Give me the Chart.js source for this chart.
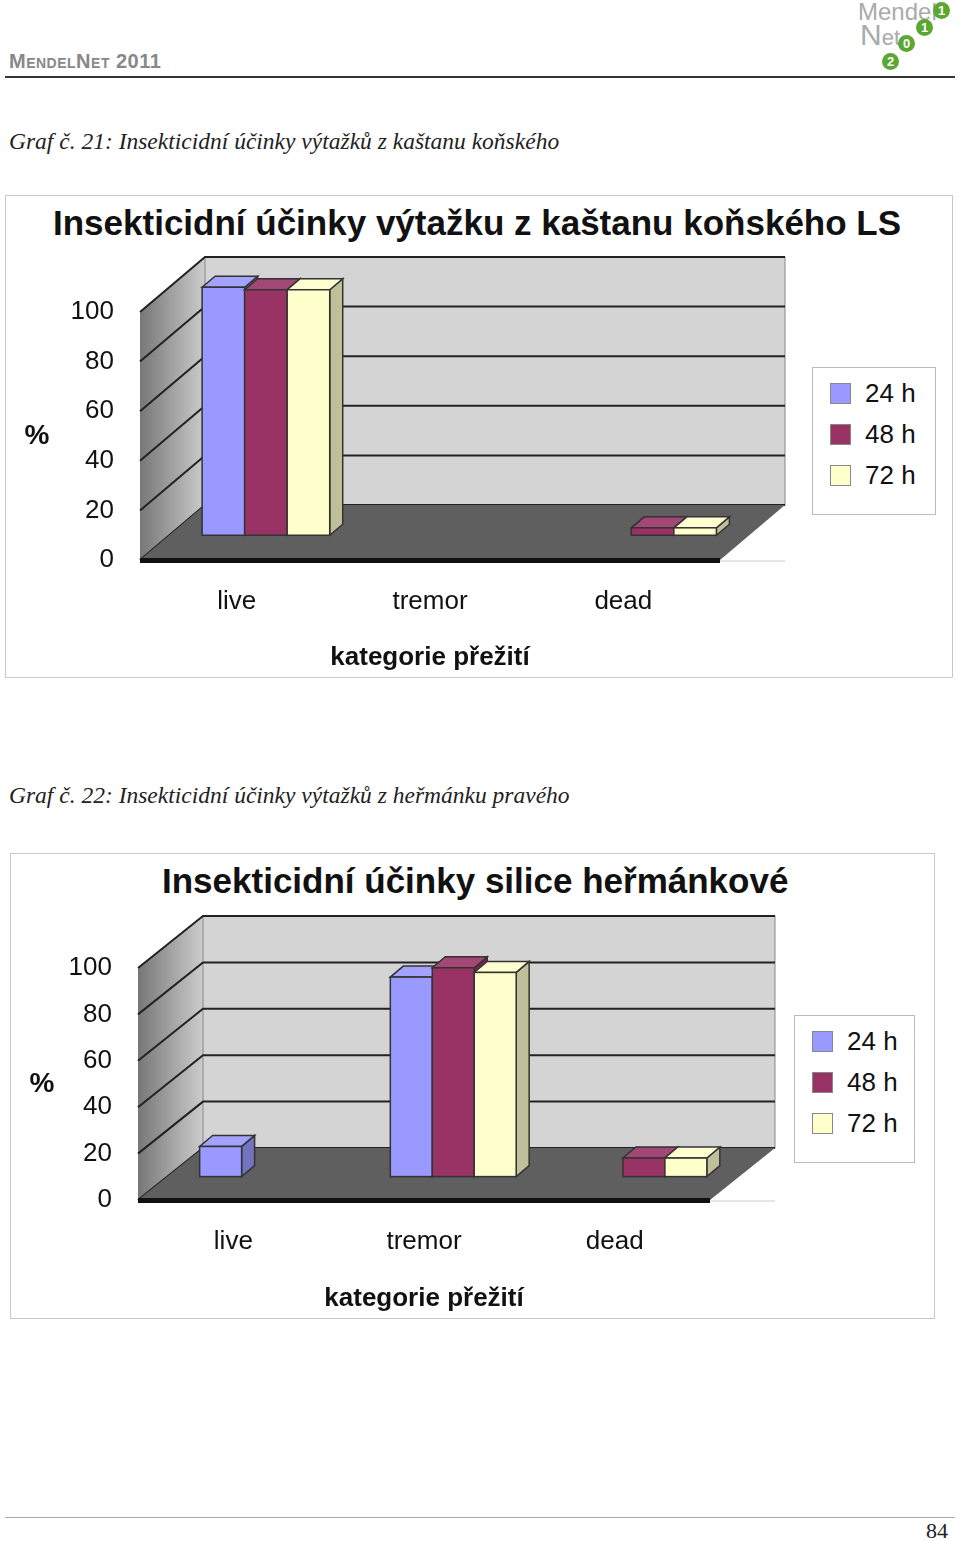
<!DOCTYPE html>
<html><head><meta charset="utf-8">
<script src="https://cdn.jsdelivr.net/npm/chart.js@4"></script>
<style>
body{margin:0;width:960px;height:1541px;background:#fff;position:relative;font-family:"Liberation Sans",Arial,sans-serif;overflow:hidden}
.abs{position:absolute}
.cap{font-family:"Liberation Serif","Times New Roman",serif;font-style:italic;font-size:23.5px;color:#222}
.box{border:1px solid #c8c8c8}
.ttl{font-weight:bold;font-size:35px;color:#111;white-space:nowrap}
.leg{border:1px solid #bbb;background:#fff;font-size:26px;color:#111}
.leg div{display:flex;align-items:center;height:41px;padding-left:17px}
.leg span{display:inline-block;width:19px;height:19px;border:1px solid #888;margin-right:14px}
.dot{position:absolute;border-radius:50%;background:#5aa832;color:#fff;font-size:13px;font-weight:bold;text-align:center;line-height:17px;width:17px;height:17px}
</style></head><body>
<div class="abs" style="left:9px;top:50px;font-size:20px;font-weight:bold;color:#888;font-variant:small-caps;letter-spacing:0.5px">MendelNet 2011</div>
<div class="abs" style="left:858px;top:-2px;font-size:24px;color:#aaa">Mendel</div>
<div class="abs" style="left:860px;top:18px;font-size:30px;color:#aaa">N<span style="font-size:22px">et</span></div>
<div class="dot" style="left:933px;top:2px">1</div>
<div class="dot" style="left:916px;top:19px">1</div>
<div class="dot" style="left:898px;top:35px">0</div>
<div class="dot" style="left:882px;top:53px">2</div>
<div class="abs" style="left:5px;top:76px;width:950px;height:2px;background:#333"></div>

<div class="abs cap" style="left:9px;top:128px">Graf č. 21: Insekticidní účinky výtažků z kaštanu koňského</div>
<div class="abs box" style="left:5px;top:195px;width:946px;height:481px"></div>
<div class="abs ttl" style="left:53px;top:203px">Insekticidní účinky výtažku z kaštanu koňského LS</div>
<div class="abs" style="left:5px;top:195px;width:800px;height:482px"><canvas id="c1"></canvas></div>
<div class="abs leg" style="left:812px;top:367px;width:122px;height:141px;padding-top:5px">
<div><span style="background:#9999ff"></span>24 h</div><div><span style="background:#993366"></span>48 h</div><div><span style="background:#ffffcc"></span>72 h</div></div>

<div class="abs cap" style="left:9px;top:782px">Graf č. 22: Insekticidní účinky výtažků z heřmánku pravého</div>
<div class="abs box" style="left:10px;top:853px;width:923px;height:464px"></div>
<div class="abs ttl" style="left:162px;top:861px">Insekticidní účinky silice heřmánkové</div>
<div class="abs" style="left:10px;top:853px;width:800px;height:465px"><canvas id="c2"></canvas></div>
<div class="abs leg" style="left:794px;top:1015px;width:119px;height:141px;padding-top:5px">
<div><span style="background:#9999ff"></span>24 h</div><div><span style="background:#993366"></span>48 h</div><div><span style="background:#ffffcc"></span>72 h</div></div>

<div class="abs" style="left:5px;top:1517px;width:950px;height:1px;background:#aaa"></div>
<div class="abs" style="left:926px;top:1518px;font-family:'Liberation Serif',serif;font-size:22px;color:#222">84</div>

<script>
const categories = ['live', 'tremor', 'dead'];
const seriesNames = ['24 h', '48 h', '72 h'];
const colors = ['#9999ff', '#993366', '#ffffcc'];
const yTicks = [0, 20, 40, 60, 80, 100];
// chart 21 - kaštan koňský
const horse24 = [100, 0, 0];
const horse48 = [99, 0, 3];
const horse72 = [99, 0, 3];
// chart 22 - heřmánek
const chamo24 = [13, 86, 0];
const chamo48 = [0, 90, 8];
const chamo72 = [0, 88, 8];

function shade(hex, f) {
    const n = parseInt(hex.slice(1), 16);
    const c = [n >> 16, (n >> 8) & 255, n & 255].map(v => Math.round(f > 1 ? v + (255 - v) * (f - 1) : v * f));
    return `rgb(${c.join(',')})`;
}

const threeD = {
    id: 'threeD',
    beforeDatasetsDraw(chart, args, o) {
        const ctx = chart.ctx, a = chart.chartArea, y = chart.scales.y;
        const dx = o.dx, dy = o.dy;
        ctx.save();
        // "%" axis title, not rotated
        ctx.fillStyle = '#111';
        ctx.font = 'bold 28px "Liberation Sans", Arial, sans-serif';
        ctx.textAlign = 'center'; ctx.textBaseline = 'middle';
        ctx.fillText('%', o.pctX, (a.top + a.bottom) / 2);
        // left wall
        let g = ctx.createLinearGradient(a.left, 0, a.left + dx, 0);
        g.addColorStop(0, '#777'); g.addColorStop(1, '#ccc');
        ctx.fillStyle = g;
        ctx.beginPath();
        ctx.moveTo(a.left, a.bottom); ctx.lineTo(a.left, a.top);
        ctx.lineTo(a.left + dx, a.top + dy); ctx.lineTo(a.left + dx, a.bottom + dy);
        ctx.closePath(); ctx.fill();
        // back wall
        ctx.fillStyle = '#d4d4d4';
        ctx.fillRect(a.left + dx, a.top + dy, a.right - a.left, a.bottom - a.top);
        ctx.strokeStyle = '#888'; ctx.lineWidth = 1;
        ctx.strokeRect(a.left + dx, a.top + dy, a.right - a.left, a.bottom - a.top);
        ctx.strokeStyle = '#222'; ctx.lineWidth = 2;
        yTicks.forEach(v => {
            const py = y.getPixelForValue(v);
            ctx.beginPath();
            ctx.moveTo(a.left, py); ctx.lineTo(a.left + dx, py + dy);
            ctx.lineTo(a.right + dx, py + dy); ctx.stroke();
        });
        // floor
        ctx.fillStyle = '#5f5f5f';
        ctx.beginPath();
        ctx.moveTo(a.left, a.bottom); ctx.lineTo(a.right, a.bottom);
        ctx.lineTo(a.right + dx, a.bottom + dy); ctx.lineTo(a.left + dx, a.bottom + dy);
        ctx.closePath(); ctx.fill();
        ctx.fillStyle = '#111';
        ctx.fillRect(a.left, a.bottom - 2, a.right - a.left, 5);
        ctx.strokeStyle = '#ccc'; ctx.lineWidth = 1;
        ctx.beginPath(); ctx.moveTo(a.right, a.bottom + 1); ctx.lineTo(a.right + dx, a.bottom + 1); ctx.stroke();
        // bars, set at half depth
        const ox = dx * 0.45, oy = dy * 0.45, bx = 13, by = -11;
        chart.data.datasets.forEach((ds, di) => {
            chart.getDatasetMeta(di).data.forEach((el, i) => {
                if (!ds.data[i]) return;
                const l = el.x - el.width / 2 + ox, r = el.x + el.width / 2 + ox;
                const t = el.y + oy, b = el.base + oy;
                ctx.strokeStyle = '#333'; ctx.lineWidth = 1.5;
                ctx.fillStyle = shade(colors[di], 0.75);
                ctx.beginPath();
                ctx.moveTo(r, b); ctx.lineTo(r, t); ctx.lineTo(r + bx, t + by); ctx.lineTo(r + bx, b + by);
                ctx.closePath(); ctx.fill(); ctx.stroke();
                ctx.fillStyle = shade(colors[di], 1.1);
                ctx.beginPath();
                ctx.moveTo(l, t); ctx.lineTo(r, t); ctx.lineTo(r + bx, t + by); ctx.lineTo(l + bx, t + by);
                ctx.closePath(); ctx.fill(); ctx.stroke();
                ctx.fillStyle = colors[di];
                ctx.fillRect(l, t, r - l, b - t); ctx.strokeRect(l, t, r - l, b - t);
            });
        });
        ctx.restore();
    }
};

function makeChart(id, s24, s48, s72, geo) {
    const font = { family: '"Liberation Sans", Arial, sans-serif', size: 26 };
    new Chart(document.getElementById(id), {
        type: 'bar',
        data: {
            labels: categories,
            datasets: [s24, s48, s72].map((d, i) => ({
                label: seriesNames[i], data: d,
                backgroundColor: 'rgba(0,0,0,0)', borderWidth: 0,
                categoryPercentage: 0.66, barPercentage: 1
            }))
        },
        options: {
            responsive: false, animation: false,
            devicePixelRatio: 1,
            layout: { padding: { top: geo.top, right: geo.right, left: 0, bottom: 0 } },
            plugins: { legend: { display: false }, tooltip: { enabled: false }, threeD: { dx: geo.dx, dy: geo.dy, pctX: geo.pctX } },
            scales: {
                x: {
                    grid: { display: false }, border: { display: false },
                    ticks: { color: '#111', font, padding: 18 },
                    title: { display: true, text: 'kategorie přežití', color: '#111', font: { ...font, weight: 'bold' }, padding: { top: 0 } },
                    afterFit: s => { s.height = geo.bottomH; }
                },
                y: {
                    min: 0, max: 100,
                    afterBuildTicks: s => { s.ticks = yTicks.map(v => ({ value: v })); },
                    grid: { display: false }, border: { display: false },
                    ticks: { color: '#111', font, padding: 18 },
                    afterFit: s => { s.width = geo.leftW; }
                }
            }
        },
        plugins: [threeD]
    });
}
function sizeCanvas(id, w, h) { const c = document.getElementById(id); c.width = w; c.height = h; c.style.width = w + 'px'; c.style.height = h + 'px'; }
sizeCanvas('c1', 800, 482);
sizeCanvas('c2', 800, 465);
makeChart('c1', horse24, horse48, horse72, { top: 117, right: 85, bottomH: 117, leftW: 135, dx: 65, dy: -55, pctX: 32 });
makeChart('c2', chamo24, chamo48, chamo72, { top: 115, right: 100, bottomH: 118, leftW: 128, dx: 65, dy: -52, pctX: 32 });
</script>
</body></html>
